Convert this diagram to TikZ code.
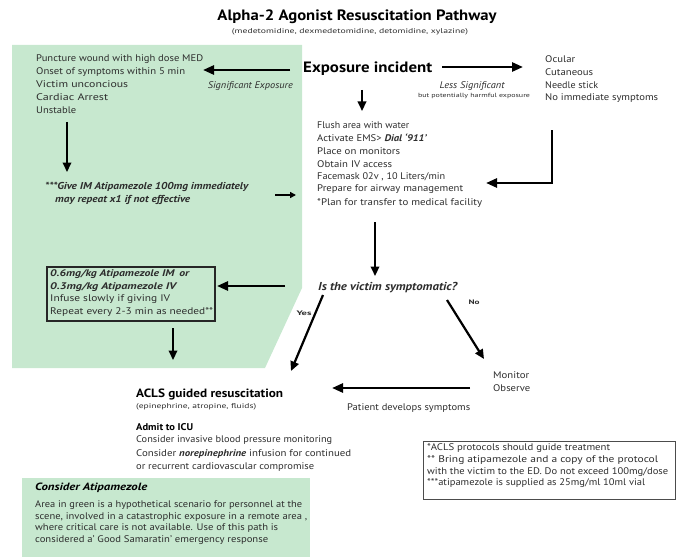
\documentclass[tikz,border=0pt]{standalone}
\usepackage{fontspec}
\usepackage{graphicx}
\setmainfont{PT Sans}
\usetikzlibrary{arrows.meta}
\definecolor{greenfill}{RGB}{199,232,207}
\definecolor{txtc}{RGB}{45,45,45}
\newcommand{\tw}[2]{\resizebox{#1pt}{\height}{#2}}
\tikzset{
  txt/.style={anchor=west, inner sep=0pt, text=txtc, font=\fontsize{9.6}{11}\selectfont},
  bi/.style={txt, font=\bfseries\itshape\fontsize{9.6}{11}\selectfont},
  small/.style={inner sep=0pt, text=txtc, font=\fontsize{6.5}{7}\selectfont},
  bigarrow/.style={line width=2.6pt, -{Triangle[length=11pt,width=9pt]}},
  midarrow/.style={line width=2.2pt, -{Triangle[length=9.5pt,width=8.5pt]}},
}
\begin{document}
\begin{tikzpicture}[x=1pt,y=-1pt]
\useasboundingbox (0,0) rectangle (682,559);
% green regions
\fill[greenfill] (12,45) -- (302,45) -- (302,288) -- (265,368) -- (12,368) -- cycle;
\fill[greenfill] (22,478) rectangle (310,557);

% title
\node[inner sep=0pt, font=\bfseries\fontsize{15}{16}\selectfont] (title) at (357,17) {\tw{279}{Alpha-2 Agonist Resuscitation Pathway}};
\node[small, font=\fontsize{7}{8}\selectfont] (sub) at (350,32) {\tw{236}{(medetomidine, dexmedetomidine, detomidine, xylazine)}};

% exposure incident
\node[txt, font=\bfseries\fontsize{15}{16}\selectfont, text=black] (expo) at (303,69) {\tw{129}{Exposure incident}};

% left list
\node[txt] (l1) at (36,59) {\tw{167}{Puncture wound with high dose MED}};
\node[txt] (l2) at (36,72) {\tw{149}{Onset of symptoms within 5 min}};
\node[txt] (l3) at (36,84.5) {\tw{92}{Victim unconcious}};
\node[txt] (l4) at (36,97) {\tw{72}{Cardiac Arrest}};
\node[txt] (l5) at (36,110) {\tw{40}{Unstable}};
\node[txt, anchor=east, font=\itshape\fontsize{9.6}{11}\selectfont] (sig) at (293,86) {\tw{85}{Significant Exposure}};

% right list
\node[txt] (r1) at (545,59) {\tw{30}{Ocular}};
\node[txt] (r2) at (545,72) {\tw{48}{Cutaneous}};
\node[txt] (r3) at (545,85) {\tw{53}{Needle stick}};
\node[txt] (r4) at (545,98) {\tw{113}{No immediate symptoms}};
\node[inner sep=0pt, text=txtc, font=\itshape\fontsize{9.6}{11}\selectfont] (less) at (472,86) {\tw{65}{Less Significant}};
\node[small, font=\fontsize{6}{7}\selectfont] (lessb) at (474,96) {\tw{112}{but potentially harmful exposure}};

% middle list
\node[txt] (m1) at (317,125) {\tw{92}{Flush area with water}};
\node[txt] (m2) at (317,138) {\tw{110}{Activate EMS> \textbf{\textit{Dial `911'}}}};
\node[txt] (m3) at (317,151) {\tw{83}{Place on monitors}};
\node[txt] (m4) at (317,164) {\tw{75}{Obtain IV access}};
\node[txt] (m5) at (317,177) {\tw{128}{Facemask 02v , 10 Liters/min}};
\node[txt] (m6) at (317,189.5) {\tw{146}{Prepare for airway management}};
\node[txt] (m7) at (317,203) {\tw{165}{*Plan for transfer to medical facility}};

% give IM
\node[bi, font=\bfseries\itshape\fontsize{10}{11}\selectfont] (give1) at (45,187) {\tw{203}{***Give IM Atipamezole 100mg immediately}};
\node[bi, font=\bfseries\itshape\fontsize{10}{11}\selectfont] (give2) at (55,200) {\tw{135}{may repeat x1 if not effective}};

% dose box
\draw[line width=1.2pt, draw=black!85] (47,267) rectangle (215,321);
\node[bi] (d1) at (50,274) {\tw{139}{0.6mg/kg Atipamezole IM\, or}};
\node[bi] (d2) at (50,287) {\tw{126}{0.3mg/kg Atipamezole IV}};
\node[txt] (d3) at (50,299.5) {\tw{120}{Infuse slowly if giving IV}};
\node[txt] (d4) at (50,312) {\tw{163}{Repeat every 2-3 min as needed**}};

% question
\node[bi, font=\bfseries\itshape\fontsize{11.5}{12}\selectfont] (q) at (318,288) {\tw{139}{Is the victim symptomatic?}};
\node[inner sep=0pt, text=txtc, font=\bfseries\fontsize{6.5}{7}\selectfont] (yes) at (304,313) {\tw{15}{Yes}};
\node[inner sep=0pt, text=txtc, font=\bfseries\fontsize{6.5}{7}\selectfont] (no) at (474,302) {\tw{11}{No}};

% monitor
\node[txt] (mon1) at (493,375) {\tw{36}{Monitor}};
\node[txt] (mon2) at (493,388) {\tw{37}{Observe}};
\node[txt] (pat) at (347,408) {\tw{123}{Patient develops symptoms}};

% ACLS
\node[txt, font=\bfseries\fontsize{12}{13}\selectfont, text=black] (acls) at (136,394) {\tw{147}{ACLS guided resuscitation}};
\node[small, anchor=west, font=\fontsize{7}{8}\selectfont] (acls2) at (136,407) {\tw{120}{(epinephrine, atropine, fluids)}};
\node[txt, font=\bfseries\fontsize{9.8}{11}\selectfont, text=black] (icu) at (136,427) {\tw{57}{Admit to ICU}};
\node[txt] (icu1) at (136,440) {\tw{196}{Consider invasive blood pressure monitoring}};
\node[txt] (icu2) at (136,454) {\tw{215}{Consider \textbf{\textit{norepinephrine}} infusion for continued}};
\node[txt] (icu3) at (136,467) {\tw{178}{or recurrent cardiovascular compromise}};

% bottom green box text
\node[bi, font=\bfseries\itshape\fontsize{10.5}{12}\selectfont, text=black] (cons) at (35,488) {\tw{112}{Consider Atipamezole}};
\node[txt] (c1) at (35,505) {\tw{267}{Area in green is a hypothetical scenario for personnel at the}};
\node[txt] (c2) at (35,517) {\tw{272}{scene, involved in a catastrophic exposure in a remote area ,}};
\node[txt] (c3) at (35,528.5) {\tw{243}{where critical care is not available. Use of this path is}};
\node[txt] (c4) at (35,540) {\tw{233}{considered a' Good Samaratin' emergency response}};

% footnote box
\draw[line width=0.8pt, draw=black!70] (423,441) rectangle (675,499);
\node[txt] (f1) at (427,448) {\tw{183}{*ACLS protocols should guide treatment}};
\node[txt] (f2) at (427,460) {\tw{231}{** Bring atipamezole and a copy of the protocol}};
\node[txt] (f3) at (427,472) {\tw{241}{with the victim to the ED. Do not exceed 100mg/dose}};
\node[txt] (f4) at (427,483.5) {\tw{218}{***atipamezole is supplied as 25mg/ml 10ml vial}};

% connector coordinates
\coordinate (a1s) at (290,70); \coordinate (a1e) at (203,70);
\coordinate (a2s) at (442,67); \coordinate (a2e) at (523,67);
\coordinate (a3s) at (362,90); \coordinate (a3e) at (362,111);
\coordinate (a4s) at (67,122); \coordinate (a4e) at (67,172);
\coordinate (a5s) at (275,195); \coordinate (a5e) at (296,195);
\coordinate (a6s) at (552,130); \coordinate (a6m) at (552,183); \coordinate (a6e) at (486,183);
\coordinate (a7s) at (375,222); \coordinate (a7e) at (375,276);
\coordinate (a8s) at (285,286); \coordinate (a8e) at (217,286);
\coordinate (a9s) at (173,328); \coordinate (a9e) at (173,360);
\coordinate (a10s) at (323,295); \coordinate (a10e) at (291,371);
\coordinate (a11s) at (447,300); \coordinate (a11e) at (484,359);
\coordinate (a12s) at (470,388); \coordinate (a12e) at (332,388);

\draw[bigarrow] (a1s) -- (a1e);
\draw[bigarrow] (a2s) -- (a2e);
\draw[midarrow] (a3s) -- (a3e);
\draw[midarrow] (a4s) -- (a4e);
\draw[line width=1.8pt, -{Triangle[length=6pt,width=6pt]}] (a5s) -- (a5e);
\draw[bigarrow, line join=miter] (a6s) -- (a6m) -- (a6e);
\draw[midarrow] (a7s) -- (a7e);
\draw[bigarrow] (a8s) -- (a8e);
\draw[midarrow] (a9s) -- (a9e);
\draw[midarrow] (a10s) -- (a10e);
\draw[midarrow] (a11s) -- (a11e);
\draw[bigarrow] (a12s) -- (a12e);
\end{tikzpicture}
\end{document}
